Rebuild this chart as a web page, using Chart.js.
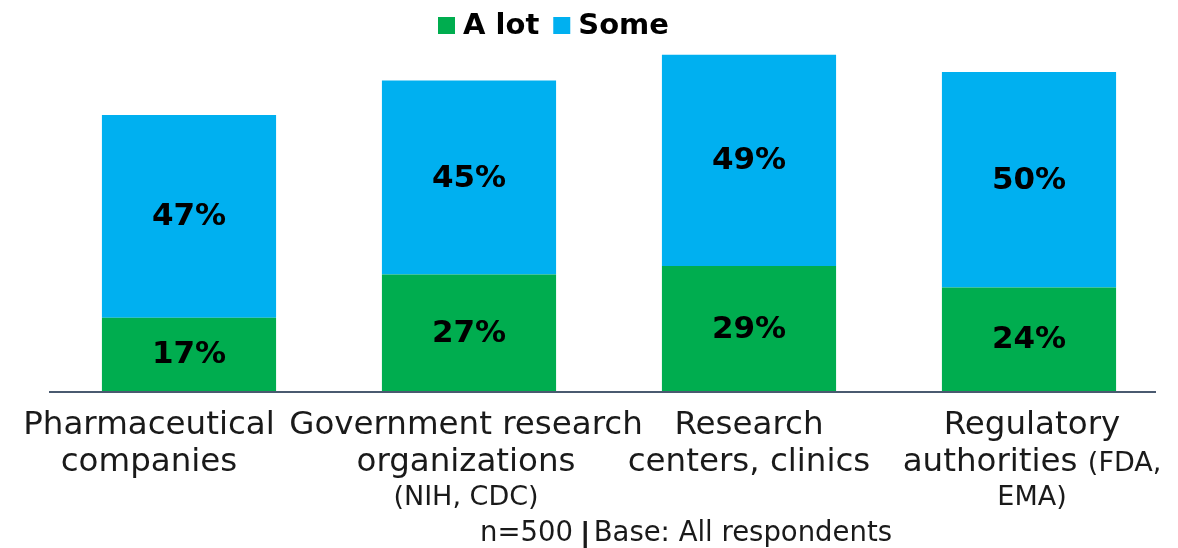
<!DOCTYPE html>
<html>
<head>
<meta charset="utf-8">
<script src="https://cdn.jsdelivr.net/npm/chart.js@4"></script>
<style>
html,body{margin:0;padding:0;background:#fff;}
#wrap{width:1178px;height:548px;position:relative;}
</style>
</head>
<body>
<div id="wrap"><canvas id="c"></canvas></div>
<script>
// ---- data ----
const categories = ["Pharmaceutical companies", "Government research organizations (NIH, CDC)", "Research centers, clinics", "Regulatory authorities (FDA, EMA)"];
const seriesNames = ["A lot", "Some"];
const aLot = [17, 27, 29, 24];
const some = [47, 45, 49, 50];
const footerNote = ["n=500", "|", "Base: All respondents"];
// Label lines: each line is a list of [text, small?] segments
const labelLines = [
  [[["Pharmaceutical", false]], [["companies", false]]],
  [[["Government research", false]], [["organizations", false]], [["(NIH, CDC)", true]]],
  [[["Research", false]], [["centers, clinics", false]]],
  [[["Regulatory", false]], [["authorities ", false], ["(FDA,", true]], [["EMA)", true]]]
];

const FONT = "'DejaVu Sans', sans-serif";
const GREEN = "#00AD4F";
const BLUE = "#00B0F0";

const valueLabels = {
  id: 'valueLabels',
  afterDatasetsDraw(chart) {
    const ctx = chart.ctx;
    ctx.save();
    ctx.font = "bold 31px " + FONT;
    ctx.fillStyle = "#000";
    ctx.textAlign = "center";
    ctx.textBaseline = "middle";
    chart.data.datasets.forEach((ds, di) => {
      const meta = chart.getDatasetMeta(di);
      meta.data.forEach((el, i) => {
        const p = el.getProps(['x', 'y', 'base'], true);
        ctx.fillText(ds.data[i] + "%", p.x, (p.y + p.base) / 2 + 1);
      });
    });
    ctx.restore();
  }
};

const customLegend = {
  id: 'customLegend',
  afterDraw(chart) {
    const ctx = chart.ctx;
    ctx.save();
    ctx.font = "bold 29px " + FONT;
    ctx.textBaseline = "alphabetic";
    ctx.textAlign = "left";
    let x = 438;
    chart.data.datasets.forEach((ds) => {
      ctx.fillStyle = ds.backgroundColor;
      ctx.fillRect(x, 17, 17, 17);
      ctx.fillStyle = "#000";
      ctx.fillText(ds.label, x + 25, 34);
      x += 25 + ctx.measureText(ds.label).width + 14;
    });
    ctx.restore();
  }
};

const categoryLabels = {
  id: 'categoryLabels',
  afterDraw(chart) {
    const ctx = chart.ctx;
    const xs = chart.scales.x;
    const ca = chart.chartArea;
    // axis line
    ctx.save();
    ctx.strokeStyle = '#4a5a70';
    ctx.lineWidth = 2;
    ctx.beginPath();
    ctx.moveTo(ca.left, ca.bottom + 1);
    ctx.lineTo(ca.right - 13, ca.bottom + 1);
    ctx.stroke();

    const baselines = [434, 471, 505];
    const offsets = [-40, -3, 0, 3];
    ctx.fillStyle = "#1a1a1a";
    ctx.textBaseline = "alphabetic";
    ctx.textAlign = "left";
    labelLines.forEach((lines, i) => {
      const cx = xs.getPixelForValue(i) + offsets[i];
      lines.forEach((segs, li) => {
        let w = 0;
        segs.forEach(([t, small]) => { ctx.font = (small ? "27px " : "32.5px ") + FONT; w += ctx.measureText(t).width; });
        let x = cx - w / 2;
        segs.forEach(([t, small]) => {
          ctx.font = (small ? "27px " : "32.5px ") + FONT;
          ctx.fillText(t, x, baselines[li]);
          x += ctx.measureText(t).width;
        });
      });
    });
    // footer
    let x = 480;
    const fy = 541;
    ctx.font = "27.5px " + FONT;
    ctx.fillText(footerNote[0], x, fy);
    x += ctx.measureText(footerNote[0] + " ").width - 2;
    ctx.font = "bold 30px " + FONT;
    ctx.fillText(footerNote[1], x, fy + 3);
    x += ctx.measureText(footerNote[1]).width + 3;
    ctx.font = "27.5px " + FONT;
    ctx.fillText(footerNote[2], x, fy);
    ctx.restore();
  }
};

new Chart(document.getElementById('c'), {
  type: 'bar',
  data: {
    labels: categories,
    datasets: [
      { label: seriesNames[0], data: aLot, backgroundColor: GREEN, borderWidth: 0 },
      { label: seriesNames[1], data: some, backgroundColor: BLUE, borderWidth: 0 }
    ]
  },
  options: {
    responsive: true,
    maintainAspectRatio: false,
    animation: false,
    layout: { padding: { left: 49, right: 9, bottom: 157, top: 46 } },
    datasets: { bar: { categoryPercentage: 1.0, barPercentage: 0.622 } },
    plugins: {
      tooltip: { enabled: false },
      legend: { display: false }
    },
    scales: {
      x: {
        stacked: true,
        grid: { display: false, drawTicks: false },
        border: { display: false },
        ticks: { display: false }
      },
      y: {
        stacked: true,
        display: false,
        min: 0,
        max: 80
      }
    }
  },
  plugins: [valueLabels, customLegend, categoryLabels]
});
</script>
</body>
</html>
